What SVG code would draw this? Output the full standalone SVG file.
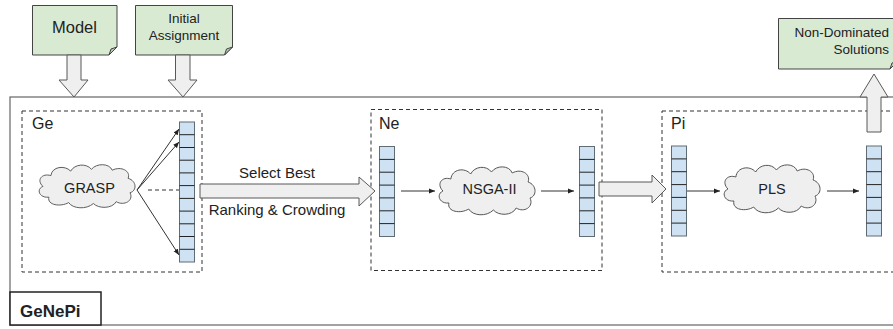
<svg xmlns="http://www.w3.org/2000/svg" xmlns:xlink="http://www.w3.org/1999/xlink" width="893" height="329" viewBox="0 0 893 329">
<style>
text{font-family:"Liberation Sans",Arial,sans-serif;fill:#222}
.frame{fill:#fff;stroke:#666;stroke-width:1.2}
.dash{fill:none;stroke:#333;stroke-width:1;stroke-dasharray:4,3}
.note{fill:#d9ead3;stroke:#444;stroke-width:1}
.fold{fill:#b7c9b0;stroke:#444;stroke-width:1}
.big{fill:#efefef;stroke:#595959;stroke-width:1}
.cloud{fill:#efefef;stroke:#555;stroke-width:1;vector-effect:non-scaling-stroke}
.cell{fill:#cfe2f3;stroke:#5f6b75;stroke-width:1}
.sep{stroke:#222;stroke-width:1}
.conn{fill:none;stroke:#333;stroke-width:1}
.t14{font-size:14.5px}
.t15{font-size:15px}
.t16{font-size:16px}
</style>
<defs>
<marker id="ah" markerUnits="userSpaceOnUse" markerWidth="6" markerHeight="6" refX="6" refY="3" orient="auto">
<path d="M0,0.5 L6,3 L0,5.5 z" fill="#222"/>
</marker>
<path id="cloudShape" d="M12,38 C2,39 -1,29 6,26 C-1,19 5,11 14,14 C15,4 28,2 34,9 C38,1 50,0 55,7 C60,0 73,0 76,8 C85,3 95,9 92,17 C101,20 101,31 94,33 C98,42 88,48 80,43 C76,51 62,51 57,45 C50,52 36,51 32,44 C24,49 10,47 12,38 Z"/>
</defs>

<rect width="893" height="329" fill="#fff"/>

<g id="genepi">
<rect class="frame" x="10" y="97" width="900" height="228"/>
<rect x="10" y="292" width="91" height="33" fill="#fff" stroke="#222" stroke-width="1.5"/>
<text x="20" y="317" font-size="17" font-weight="bold">GeNePi</text>
</g>

<g id="ge">
<rect class="dash" x="22" y="111" width="180" height="161"/>
<text class="t16" x="32" y="129">Ge</text>
<use xlink:href="#cloudShape" class="cloud" transform="translate(37,163) scale(0.99,0.9)"/>
<text class="t14" x="89.5" y="193" text-anchor="middle">GRASP</text>
<g id="ge-array">
<rect class="cell" x="179.5" y="122" width="15" height="140"/>
<path class="sep" d="M179.5,134.7h15M179.5,147.5h15M179.5,160.2h15M179.5,172.9h15M179.5,185.6h15M179.5,198.4h15M179.5,211.1h15M179.5,223.8h15M179.5,236.5h15M179.5,249.3h15"/>
</g>
</g>

<g id="ne">
<rect class="dash" x="371" y="109.5" width="231" height="161"/>
<text class="t16" x="379" y="129">Ne</text>
<g id="ne-array-in">
<rect class="cell" x="379.5" y="146.5" width="15" height="90"/>
<path class="sep" d="M379.5,159.4h15M379.5,172.2h15M379.5,185.1h15M379.5,197.9h15M379.5,210.8h15M379.5,223.6h15"/>
</g>
<use xlink:href="#cloudShape" class="cloud" transform="translate(437,165) scale(0.99,1)"/>
<text class="t14" x="489.5" y="194" text-anchor="middle">NSGA-II</text>
<g id="ne-array-out">
<rect class="cell" x="579.5" y="146.5" width="15" height="90"/>
<path class="sep" d="M579.5,159.4h15M579.5,172.2h15M579.5,185.1h15M579.5,197.9h15M579.5,210.8h15M579.5,223.6h15"/>
</g>
</g>

<g id="pi">
<rect class="dash" x="662" y="111" width="260" height="161"/>
<text class="t16" x="671" y="129">Pi</text>
<g id="pi-array-in">
<rect class="cell" x="671.5" y="146" width="15" height="90"/>
<path class="sep" d="M671.5,158.9h15M671.5,171.7h15M671.5,184.6h15M671.5,197.4h15M671.5,210.3h15M671.5,223.1h15"/>
</g>
<use xlink:href="#cloudShape" class="cloud" transform="translate(722,163) scale(0.99,1)"/>
<text class="t14" x="772" y="194" text-anchor="middle">PLS</text>
<g id="pi-array-out">
<rect class="cell" x="866.5" y="146" width="15" height="90"/>
<path class="sep" d="M866.5,158.9h15M866.5,171.7h15M866.5,184.6h15M866.5,197.4h15M866.5,210.3h15M866.5,223.1h15"/>
</g>
</g>

<g id="model">
<path class="note" d="M32.5,5.5H117V47L109,55H32.5Z"/>
<path class="fold" d="M109,55L111,49L117,47Z"/>
<text x="74.5" y="33" font-size="16.5" text-anchor="middle">Model</text>
</g>
<g id="initial-assignment">
<path class="note" d="M135.5,5.5H232.5V47L224.5,55H135.5Z"/>
<path class="fold" d="M224.5,55L226.5,49L232.5,47Z"/>
<text x="184" y="23" font-size="13.5" text-anchor="middle">Initial</text>
<text x="184" y="40" font-size="13.5" text-anchor="middle">Assignment</text>
</g>
<g id="non-dominated">
<path class="note" d="M778.5,18.5H898V61L890,69H778.5Z"/>
<path class="fold" d="M890,69L892,63L898,61Z"/>
<text x="889" y="37" font-size="13.5" text-anchor="end">Non-Dominated</text>
<text x="889" y="54" font-size="13.5" text-anchor="end">Solutions</text>
</g>

<g id="connectors">
<path class="big" d="M67,55H81V80H88L74,97L59,80H67Z"/>
<path class="big" d="M175.5,55H190V80H197L183,97L168,80H175.5Z"/>
<path class="big" d="M867,132V97H860L874,74L888,97H881V132Z"/>
<path class="big" d="M200,184H359V177L375,191L359,206V198H200Z"/>
<path class="big" d="M599,182H652V175L666,189L652,203V196H599Z"/>
<path class="conn" marker-end="url(#ah)" d="M137,190L179,129"/>
<path class="conn" marker-end="url(#ah)" d="M137,190L179,142"/>
<path class="conn" marker-end="url(#ah)" d="M137,190L179,255"/>
<path class="conn" stroke-dasharray="4,3" d="M148,190H179"/>
<path class="conn" marker-end="url(#ah)" d="M401,191H435"/>
<path class="conn" marker-end="url(#ah)" d="M541,191H574"/>
<path class="conn" marker-end="url(#ah)" d="M687,191H720"/>
<path class="conn" marker-end="url(#ah)" d="M827,191H859"/>
<text class="t15" x="277" y="178" text-anchor="middle">Select Best</text>
<text class="t15" x="277" y="215" text-anchor="middle">Ranking &amp; Crowding</text>
</g>
</svg>
